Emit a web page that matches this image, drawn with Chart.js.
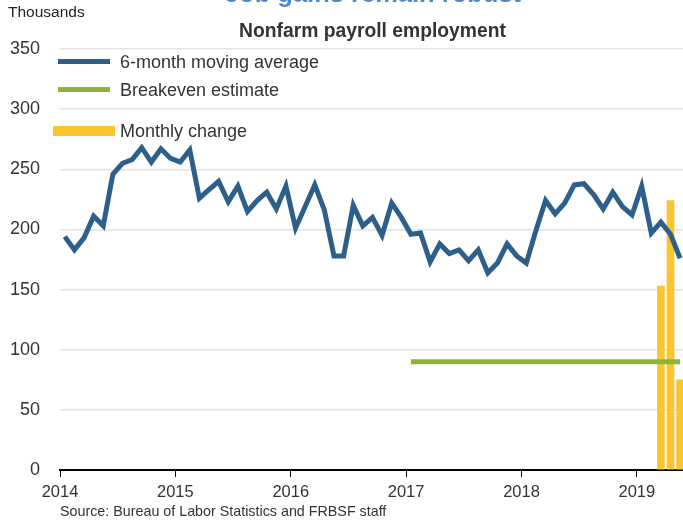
<!DOCTYPE html>
<html>
<head>
<meta charset="utf-8">
<script src="https://cdn.jsdelivr.net/npm/chart.js@4/dist/chart.umd.min.js"></script>
<style>
  html, body { margin: 0; padding: 0; background: #fff; overflow: hidden; }
  #wrap { position: relative; width: 683px; height: 523px; overflow: hidden; font-family: "Liberation Sans", Arial, sans-serif; color: #333; }
  canvas { position: absolute; left: 0; top: 0; }
  .txt { position: absolute; white-space: nowrap; }
  .sw { position: absolute; }
</style>
</head>
<body>
<div id="wrap">
  <canvas id="c" width="683" height="523"></canvas>
  <div class="txt" id="bigTitle" style="left:0;width:746px;text-align:center;top:-19px;font-size:25.5px;line-height:25px;font-weight:bold;color:#4f89c9;">Job gains remain robust</div>
  <div class="txt" style="left:8px;top:3px;font-size:15.5px;line-height:18px;color:#222;">Thousands</div>
  <div class="txt" style="left:0;width:745px;text-align:center;top:21px;font-size:19.3px;line-height:20px;font-weight:bold;color:#333;">Nonfarm payroll employment</div>
  <div class="sw" style="left:58px;top:59px;width:52px;height:5px;background:#2d5f8b;"></div>
  <div class="txt" style="left:120px;top:51px;font-size:18px;line-height:22px;color:#333;">6-month moving average</div>
  <div class="sw" style="left:58px;top:87px;width:52px;height:5px;background:#8db33a;"></div>
  <div class="txt" style="left:120px;top:79px;font-size:18px;line-height:22px;color:#333;">Breakeven estimate</div>
  <div class="sw" style="left:53px;top:126px;width:62px;height:10px;background:#fcc42d;"></div>
  <div class="txt" style="left:120px;top:120px;font-size:18px;line-height:22px;color:#333;">Monthly change</div>
  <div class="txt" style="left:60px;top:503px;font-size:14.3px;line-height:16px;color:#333;">Source: Bureau of Labor Statistics and FRBSF staff</div>
</div>
<script>
// Tick labels (years) on the x axis
const yearLabels = [2014, 2015, 2016, 2017, 2018, 2019];
// 6-month moving average of nonfarm payroll change (thousands), Jan 2014 .. May 2019
const avg2014 = [194, 183, 193, 211, 203, 246, 255, 258, 268, 256, 267, 259];
const avg2015 = [256, 266, 226, 233, 240, 223, 236, 215, 224, 231, 217, 236];
const avg2016 = [201, 219, 237, 216, 178, 178, 220, 203, 210, 195, 222, 210];
const avg2017 = [196, 197, 173, 188, 180, 183, 174, 183, 164, 172, 188, 178];
const avg2018 = [172, 199, 224, 213, 222, 237, 238, 229, 217, 231, 219, 212];
const avg2019 = [236, 197, 206, 196, 176];
// Breakeven estimate (thousands) from Jan 2017 onward
const breakevenStartMonth = 36;   // Jan 2017 as month index from Jan 2014
const breakevenValue = 90;
// Monthly change (thousands): Mar, Apr, May 2019
const monthlyChangeMonths = [62, 63, 64]; // month index from Jan 2014
const monthlyChange = [153, 224, 75];
// y ticks
const yTicks = [0, 50, 100, 150, 200, 250, 300, 350];

const movingAvg = [].concat(avg2014, avg2015, avg2016, avg2017, avg2018, avg2019);
const avgPoints = movingAvg.map((v, i) => ({ x: i + 0.5, y: v }));
const breakevenPoints = [];
for (let i = breakevenStartMonth; i < movingAvg.length; i++) breakevenPoints.push({ x: i + 0.5, y: breakevenValue });
const barPoints = monthlyChangeMonths.map((m, i) => ({ x: m + 0.5, y: monthlyChange[i] }));

const FONT = '"Liberation Sans", Arial, sans-serif';

new Chart(document.getElementById('c'), {
  data: {
    datasets: [
      { type: 'line', label: '6-month moving average', data: avgPoints, borderColor: '#2d5f8b', borderWidth: 5, pointRadius: 0, tension: 0, order: 0, borderJoinStyle: 'miter' },
      { type: 'line', label: 'Breakeven estimate', data: breakevenPoints, borderColor: '#8db33a', borderWidth: 5, pointRadius: 0, tension: 0, order: 1, borderCapStyle: 'butt' },
      { type: 'bar', label: 'Monthly change', data: barPoints, backgroundColor: '#fcc42d', borderWidth: 0, barThickness: 7, order: 2 }
    ]
  },
  options: {
    responsive: false,
    animation: false,
    devicePixelRatio: 1,
    layout: { padding: { top: 49, right: 0, bottom: 22, left: 0 } },
    plugins: { legend: { display: false }, tooltip: { enabled: false }, title: { display: false } },
    scales: {
      x: {
        type: 'linear',
        offset: false,
        min: 0,
        max: 64.8,
        afterBuildTicks: (s) => { s.ticks = yearLabels.map((y, i) => ({ value: i * 12 })); },
        afterFit: (s) => { s.height = 31; },
        ticks: {
          callback: (v) => String(yearLabels[Math.round(v / 12)]),
          font: { family: FONT, size: 16.5 },
          color: '#333',
          padding: 6,
          maxRotation: 0,
          autoSkip: false
        },
        grid: { offset: false, drawOnChartArea: false, drawTicks: true, tickLength: 7, color: '#000', lineWidth: 1 },
        border: { display: true, color: '#000', width: 2 }
      },
      y: {
        min: 0,
        max: 350,
        afterBuildTicks: (s) => { s.ticks = yTicks.map(v => ({ value: v })); },
        afterFit: (s) => { s.width = 60; },
        ticks: {
          font: { family: FONT, size: 18 },
          color: '#333',
          padding: 20
        },
        grid: { color: (ctx) => ctx.tick && ctx.tick.value === 0 ? 'rgba(0,0,0,0)' : '#e4e4e4', lineWidth: 1.5, drawTicks: false },
        border: { display: false }
      }
    }
  }
});
</script>
</body>
</html>
